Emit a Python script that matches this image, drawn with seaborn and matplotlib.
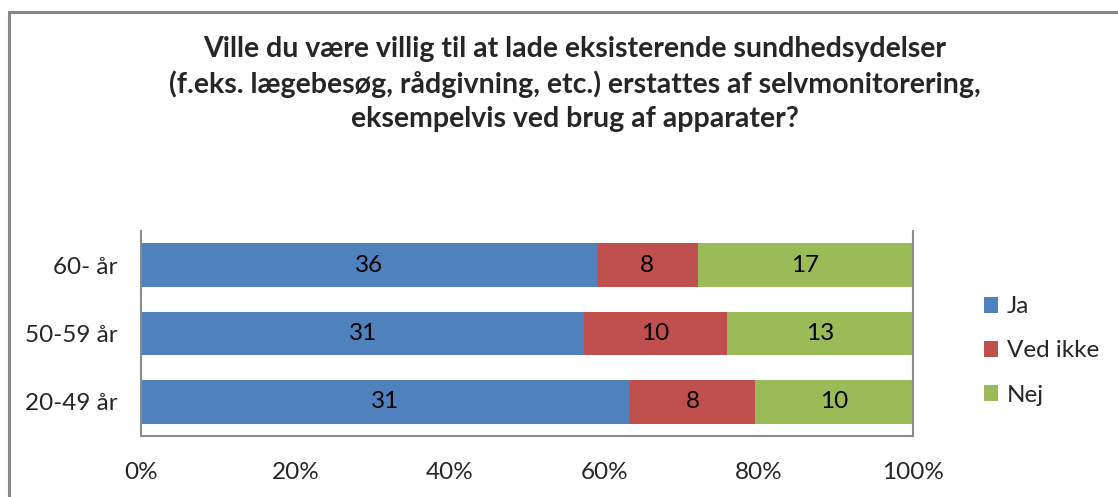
import numpy as np
import pandas as pd
import matplotlib.pyplot as plt
import seaborn as sns
from matplotlib.patches import Rectangle, Patch

# data
groups = ["60- år", "50-59 år", "20-49 år"]
answers = ["Ja", "Ved ikke", "Nej"]
ja = [36, 31, 31]
ved_ikke = [8, 10, 8]
nej = [17, 13, 10]
colors = ["#4F81BD", "#C0504D", "#9BBB59"]
title = ("Ville du være villig til at lade eksisterende sundhedsydelser\n"
         "(f.eks. lægebesøg, rådgivning, etc.) erstattes af selvmonitorering,\n"
         "eksempelvis ved brug af apparater?")

sns.set_style("white")
plt.rcParams['font.family'] = ['Lato', 'DejaVu Sans']

counts = pd.DataFrame({"Ja": ja, "Ved ikke": ved_ikke, "Nej": nej}, index=groups)
totals = counts.sum(axis=1)
pct = counts.div(totals, axis=0) * 100
cum = pct.cumsum(axis=1)

fig = plt.figure(figsize=(11.18, 4.97), dpi=100)
ax = fig.add_axes([141 / 1118, 1 - 436 / 497, (913 - 141) / 1118, (436 - 231) / 497])

# draw stacked bars back to front
for ans, col in reversed(list(zip(answers, colors))):
    df = pd.DataFrame({"group": groups, "value": cum[ans].values})
    sns.barplot(data=df, x="value", y="group", order=groups, color=col,
                orient="h", width=0.64, saturation=1, ax=ax, edgecolor="none")

# value labels in segment centres
for i, g in enumerate(groups):
    left = 0
    for ans in answers:
        w = pct.loc[g, ans]
        ax.text(left + w / 2, i, str(counts.loc[g, ans]), ha="center", va="center",
                fontsize=17.5, color="black")
        left += w

ax.set_xlim(0, 100)
ax.set_ylim(2.5, -0.5)
ax.set_xticks(np.arange(0, 101, 20))
ax.set_xticklabels([f"{v}%" for v in range(0, 101, 20)])
ax.set_xlabel("")
ax.set_ylabel("")
ax.tick_params(axis="x", length=0, pad=19, labelsize=17.5)
ax.tick_params(axis="y", length=0, pad=17, labelsize=17.5)
for s in ["left", "bottom", "right"]:
    ax.spines[s].set_color("#8C8C8C")
    ax.spines[s].set_linewidth(1.5)
ax.spines["top"].set_visible(False)

fig.text(575 / 1118, 1 - 84 / 497, title, ha="center", va="center",
         fontsize=20.5, fontweight="bold", linespacing=1.36)

handles = [Patch(facecolor=c, edgecolor="none") for c in colors]
fig.legend(handles, answers, loc="center left", bbox_to_anchor=(962 / 1118, 1 - 351 / 497),
           frameon=False, fontsize=17.5, handlelength=0.6, handleheight=0.6,
           handletextpad=0.35, labelspacing=0.95)

# outer chart frame
fig.patches.append(Rectangle((9 / 1118, -0.1), 1.2, 1.1 - 12 / 497, transform=fig.transFigure,
                             fill=False, edgecolor="#878787", linewidth=2.2))

fig.savefig("out.png", dpi=100)
